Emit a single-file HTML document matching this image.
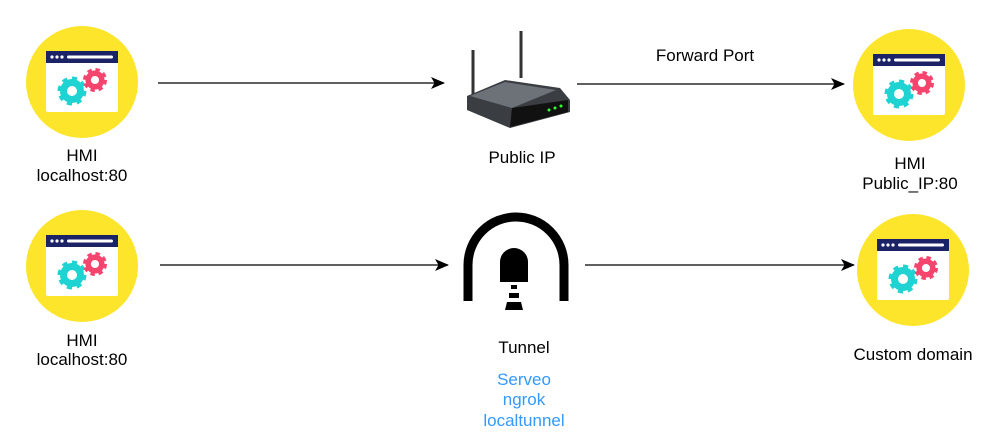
<!DOCTYPE html>
<html><head><meta charset="utf-8"><style>
html,body{margin:0;padding:0;background:#fff;}
svg{display:block;}
text{font-family:"Liberation Sans",sans-serif;font-size:17px;fill:#000;}
.b{fill:#3399ff;}
</style></head><body>
<svg width="1000" height="436" viewBox="0 0 1000 436" xmlns="http://www.w3.org/2000/svg">
<defs>
<marker id="ah" markerWidth="14" markerHeight="12" refX="13" refY="6" orient="auto" markerUnits="userSpaceOnUse">
<path d="M0,0 L14,6 L0,12 L3.5,6 Z" fill="#000"/>
</marker>
<g id="icon">
<circle cx="0" cy="0" r="56" fill="#fde52c"/>
<rect x="-36" y="-31" width="72" height="61" rx="2" fill="#fff"/>
<rect x="-36" y="-31" width="72" height="12" fill="#1b2266"/>
<circle cx="-30" cy="-25" r="1.6" fill="#fff"/><circle cx="-25" cy="-25" r="1.6" fill="#fff"/><circle cx="-20" cy="-25" r="1.6" fill="#fff"/>
<rect x="-15" y="-26.5" width="46" height="3" rx="1.5" fill="#fff"/>
<circle cx="-10" cy="9" r="10.5" fill="none" stroke="#1fd3d3" stroke-width="8" stroke-dasharray="4.2 4"/>
<circle cx="-10" cy="9" r="8.5" fill="none" stroke="#1fd3d3" stroke-width="7"/>
<circle cx="13" cy="-2" r="8.5" fill="none" stroke="#f5456f" stroke-width="7" stroke-dasharray="3.6 3.1"/>
<circle cx="13" cy="-2" r="6.8" fill="none" stroke="#f5456f" stroke-width="5.5"/>
</g>
</defs>

<use href="#icon" x="82" y="82"/>
<use href="#icon" x="909" y="85"/>
<use href="#icon" x="82" y="266"/>
<use href="#icon" x="913" y="270"/>

<g>
<line x1="473" y1="50" x2="473" y2="95" stroke="#333" stroke-width="3"/>
<line x1="521" y1="31" x2="521" y2="78" stroke="#333" stroke-width="3"/>
<path d="M467,96 L505,80 L560,88 L570,100 L570,112 L510,128 L467,110 Z" fill="#3a3d42"/>
<path d="M470,96 L505,82 L556,90 L512,108 Z" fill="#6d7279"/>
<path d="M512,108 L568,100 L568,112 L510,127 Z" fill="#111"/>
<circle cx="549" cy="110" r="1.5" fill="#3f3"/><circle cx="555" cy="108" r="1.5" fill="#3f3"/><circle cx="561" cy="106" r="1.5" fill="#3f3"/>
</g>

<path d="M468,301 L468,265 A48,48 0 0 1 564,265 L564,301" fill="none" stroke="#000" stroke-width="9"/>
<path d="M500,282 L500,262 A14,14 0 0 1 528,262 L528,282 Z" fill="#000"/>
<rect x="511" y="285" width="6" height="4" fill="#000"/>
<rect x="509" y="293" width="10" height="5" fill="#000"/>
<path d="M507,302 L521,302 L523,310 L505,310 Z" fill="#000"/>

<line x1="158" y1="83" x2="444" y2="83" stroke="#000" stroke-width="1.3" marker-end="url(#ah)"/>
<line x1="577" y1="84" x2="844" y2="84" stroke="#000" stroke-width="1.3" marker-end="url(#ah)"/>
<line x1="160" y1="265" x2="448" y2="265" stroke="#000" stroke-width="1.3" marker-end="url(#ah)"/>
<line x1="585" y1="265" x2="854" y2="265" stroke="#000" stroke-width="1.3" marker-end="url(#ah)"/>

<g text-anchor="middle">
<text x="82" y="161">HMI</text>
<text x="82" y="181">localhost:80</text>
<text x="522" y="163">Public IP</text>
<text x="705" y="61">Forward Port</text>
<text x="910" y="169">HMI</text>
<text x="910" y="189">Public_IP:80</text>
<text x="82" y="346">HMI</text>
<text x="82" y="365">localhost:80</text>
<text x="524" y="353">Tunnel</text>
<text class="b" x="524" y="385">Serveo</text>
<text class="b" x="524" y="405">ngrok</text>
<text class="b" x="524" y="426">localtunnel</text>
<text x="913" y="360">Custom domain</text>
</g>
</svg>
</body></html>
